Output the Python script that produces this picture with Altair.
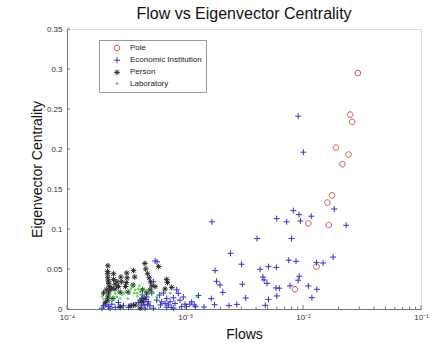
import altair as alt
import pandas as pd

# ---- data ----
pole_x = [0.0292, 0.0251, 0.0261, 0.0190, 0.0243, 0.0216, 0.0176, 0.0161, 0.0111, 0.0165, 0.0130, 0.00855]
pole_y = [0.295, 0.243, 0.234, 0.2017, 0.193, 0.181, 0.142, 0.133, 0.107, 0.105, 0.053, 0.0246]

econ_x = [0.0091, 0.01007, 0.00169, 0.0184, 0.00828, 0.00925, 0.01175, 0.00598, 0.00727, 0.0095,
          0.0232, 0.00408, 0.0080, 0.00243, 0.0180, 0.00757, 0.00873, 0.0148, 0.0130, 0.00301,
          0.00180, 0.00433, 0.0051, 0.00595, 0.00457, 0.0093, 0.00185, 0.00468, 0.00496, 0.00306,
          0.00198, 0.0091, 0.0111, 0.00776, 0.0059, 0.0063, 0.0131, 0.00209, 0.0013, 0.00167,
          0.00327, 0.0051, 0.0060, 0.0119, 0.00178, 0.00236, 0.00275, 0.00479, 0.00145, 0.00123,
          0.0011,
          1.98e-4, 2.11e-4, 2.18e-4, 2.25e-4, 2.40e-4, 2.56e-4, 2.73e-4, 3.01e-4, 3.32e-4, 3.66e-4,
          4.03e-4, 4.30e-4, 4.45e-4, 4.50e-4, 4.59e-4, 4.74e-4, 4.90e-4, 5.06e-4, 5.23e-4, 5.58e-4,
          5.80e-4, 5.40e-4, 5.76e-4, 6.07e-4, 6.35e-4, 6.56e-4, 6.78e-4, 7.00e-4, 7.23e-4, 7.47e-4,
          7.72e-4, 7.97e-4, 8.23e-4, 8.78e-4, 9.07e-4, 9.37e-4, 9.68e-4, 1.00e-3, 1.03e-3, 1.14e-3,
          1.20e-3, 8.50e-4, 4.17e-4, 4.30e-4, 4.67e-4, 4.82e-4, 4.37e-4, 2.04e-4, 2.32e-4, 2.82e-4,
          3.54e-4, 6.20e-4, 7.00e-4, 5.40e-4, 8.00e-4]
econ_y = [0.241, 0.196, 0.109, 0.125, 0.123, 0.118, 0.116, 0.113, 0.109, 0.110,
          0.1046, 0.088, 0.088, 0.0696, 0.065, 0.061, 0.0596, 0.0575, 0.058, 0.056,
          0.048, 0.0496, 0.053, 0.052, 0.040, 0.041, 0.0346, 0.0363, 0.032, 0.031,
          0.030, 0.036, 0.0288, 0.029, 0.0263, 0.026, 0.0246, 0.0208, 0.017, 0.013,
          0.0138, 0.012, 0.0163, 0.0142, 0.0054, 0.0042, 0.0058, 0.0046, 0.0025, 0.0029,
          0.006,
          0.001, 0.005, 0.009, 0.003, 0.006, 0.002, 0.008, 0.004, 0.002, 0.005,
          0.008, 0.013, 0.009, 0.005, 0.001, 0.015, 0.009, 0.004, 0.020, 0.060,
          0.059, 0.034, 0.011, 0.0175, 0.009, 0.020, 0.007, 0.013, 0.005, 0.009,
          0.002, 0.014, 0.007, 0.0196, 0.011, 0.003, 0.015, 0.006, 0.003, 0.009,
          0.005, 0.024, 0.011, 0.005, 0.012, 0.006, 0.0175, 0.004, 0.001, 0.002,
          0.004, 0.005, 0.002, 0.001, 0.001]

person_x = [2.22e-4, 2.21e-4, 2.21e-4, 2.22e-4, 2.24e-4, 2.26e-4, 2.28e-4, 2.32e-4, 2.25e-4, 2.22e-4,
            2.21e-4, 2.48e-4, 2.48e-4, 2.56e-4, 2.55e-4, 2.73e-4, 2.86e-4, 2.89e-4, 2.82e-4, 3.21e-4,
            3.23e-4, 3.18e-4, 3.13e-4, 3.30e-4, 3.66e-4, 3.75e-4, 3.63e-4, 3.43e-4, 4.57e-4, 4.65e-4,
            4.82e-4, 4.98e-4, 5.10e-4, 5.23e-4, 4.74e-4, 4.50e-4, 5.98e-4, 7.00e-4, 7.10e-4, 6.78e-4,
            7.72e-4, 5.58e-4, 2.04e-4, 2.11e-4, 3.78e-4, 4.17e-4, 2.82e-4, 2.15e-4, 2.40e-4, 2.65e-4,
            2.45e-4, 4.37e-4, 5.06e-4, 4.30e-4]
person_y = [0.054, 0.047, 0.044, 0.039, 0.035, 0.032, 0.028, 0.024, 0.020, 0.015,
            0.011, 0.044, 0.037, 0.031, 0.025, 0.028, 0.040, 0.034, 0.021, 0.045,
            0.039, 0.033, 0.028, 0.021, 0.048, 0.040, 0.030, 0.004, 0.057, 0.050,
            0.044, 0.039, 0.034, 0.029, 0.020, 0.013, 0.053, 0.037, 0.033, 0.025,
            0.027, 0.028, 0.020, 0.008, 0.005, 0.001, 0.003, 0.024, 0.026, 0.034,
            0.013, 0.024, 0.024, 0.009]

lab_x = [1.98e-4, 2.04e-4, 2.32e-4, 2.56e-4, 2.65e-4, 2.92e-4, 3.11e-4, 3.38e-4, 3.54e-4, 3.66e-4,
         3.78e-4, 3.91e-4, 4.03e-4, 4.17e-4, 4.30e-4, 4.45e-4, 4.98e-4, 5.40e-4, 5.76e-4, 6.20e-4,
         7.47e-4, 1.26e-3, 2.25e-4, 2.45e-4, 3.27e-4, 2.82e-4, 3.47e-4, 3.72e-4, 3.95e-4, 4.10e-4,
         4.74e-4, 3.01e-4, 2.73e-4, 2.48e-4]
lab_y = [0.016, 0.013, 0.0175, 0.0196, 0.015, 0.018, 0.0217, 0.020, 0.028, 0.031,
         0.024, 0.0196, 0.025, 0.0217, 0.018, 0.024, 0.019, 0.021, 0.015, 0.019,
         0.0196, 0.015, 0.009, 0.011, 0.013, 0.013, 0.025, 0.020, 0.016, 0.029,
         0.023, 0.0196, 0.0217, 0.015]

categories = ["Pole", "Economic Institution", "Person", "Laboratory"]
colors = ["#d05050", "#3434c8", "#2a2a2a", "#22cc22"]
# marker outlines drawn in a unit square (-1..1), all at one symbol size
shapes = ["M-0.8,0A0.8,0.8,0,1,0,0.8,0A0.8,0.8,0,1,0,-0.8,0Z",
          "M-0.85,0L0.85,0M0,-0.85L0,0.85",
          "M-0.8,0L0.8,0M0,-0.8L0,0.8M-0.57,-0.57L0.57,0.57M-0.57,0.57L0.57,-0.57",
          "M-0.25,0A0.25,0.25,0,1,0,0.25,0A0.25,0.25,0,1,0,-0.25,0Z"]
SYM = 49

y_ticks = [0, 0.05, 0.1, 0.15, 0.2, 0.25, 0.3, 0.35]
x_major = [1e-4, 1e-3, 1e-2, 1e-1]
x_minor = [m * d for d in [1e-4, 1e-3, 1e-2] for m in range(2, 10)]

rows = []
for name, xs, ys in [("Pole", pole_x, pole_y), ("Economic Institution", econ_x, econ_y),
                     ("Person", person_x, person_y), ("Laboratory", lab_x, lab_y)]:
    for a, b in zip(xs, ys):
        rows.append({"Flows": a, "EC": b, "type": name})
df = pd.DataFrame(rows)

W, H = 354, 280
xscale = alt.Scale(type="log", domain=[1e-4, 1e-1], nice=False)
yscale = alt.Scale(domain=[0, 0.35], nice=False, zero=False)

label_expr = ("datum.value < 0.0002 ? '10⁻⁴' : datum.value < 0.002 ? '10⁻³' : "
              "datum.value < 0.02 ? '10⁻²' : '10⁻¹'")

x_axis = alt.Axis(values=x_major, labelExpr=label_expr, ticks=False, tickSize=0,
                  grid=False, labelFontSize=8, labelColor="#333", labelPadding=4,
                  labelFont="Liberation Sans", domainColor="#777",
                  labelOverlap=False,
                  title="Flows", titleFont="Liberation Sans", titleFontSize=14,
                  titleFontWeight="normal", titleColor="#111", titleY=29,
                  titleBaseline="alphabetic", labelFlush=False)
y_axis = alt.Axis(values=y_ticks, format="~g", ticks=False, tickSize=0, grid=False,
                  labelFontSize=8, labelColor="#333", labelPadding=5,
                  labelFont="Liberation Sans", domainColor="#777",
                  labelOverlap=False, labelFlush=False,
                  title="Eigenvector Centrality", titleFont="Liberation Sans",
                  titleFontSize=14, titleFontWeight="normal", titleColor="#111",
                  titleX=-23, titleY=140, titleAngle=-90, titleAlign="center",
                  titleBaseline="bottom")

legend = alt.Legend(title=None, orient="none", legendX=32, legendY=11,
                    strokeColor="#999", fillColor="white", padding=4,
                    labelFont="Liberation Sans", labelFontSize=8,
                    labelColor="#222", rowPadding=2.2, symbolSize=SYM,
                    labelExpr="datum.label + '\u00a0\u00a0'",
                    symbolOffset=10, labelOffset=9, symbolStrokeWidth=1)

points = alt.Chart(df).mark_point(filled=False, strokeWidth=1, opacity=1, size=SYM).encode(
    x=alt.X("Flows:Q", scale=xscale, axis=x_axis),
    y=alt.Y("EC:Q", scale=yscale, axis=y_axis),
    color=alt.Color("type:N", scale=alt.Scale(domain=categories, range=colors), legend=legend),
    shape=alt.Shape("type:N", scale=alt.Scale(domain=categories, range=shapes), legend=legend),
)

ytick_df = pd.DataFrame({"EC": y_ticks})
ytick = alt.Chart(ytick_df).mark_rule(color="#777", strokeWidth=1).encode(
    y=alt.Y("EC:Q", scale=yscale, axis=y_axis), x=alt.value(0), x2=alt.value(3))

xmaj_df = pd.DataFrame({"Flows": x_major})
xmaj = alt.Chart(xmaj_df).mark_rule(color="#777", strokeWidth=1).encode(
    x=alt.X("Flows:Q", scale=xscale, axis=x_axis), y=alt.value(H), y2=alt.value(H - 4))

xmin_df = pd.DataFrame({"Flows": x_minor})
xmin = alt.Chart(xmin_df).mark_rule(color="#777", strokeWidth=1).encode(
    x=alt.X("Flows:Q", scale=xscale, axis=x_axis), y=alt.value(H), y2=alt.value(H - 2.5))

chart = alt.layer(points, ytick, xmaj, xmin).properties(
    width=W, height=H,
    title=alt.TitleParams("Flow vs Eigenvector Centrality", font="Liberation Sans",
                          fontSize=16, fontWeight="normal", color="#111",
                          offset=7, baseline="alphabetic", anchor="middle", dy=17),
    padding={"left": 67, "top": 29, "right": 23, "bottom": 35},
    autosize=alt.AutoSizeParams(type="none"),
).configure_view(stroke=None).configure(background="white")

chart.save("out.html", embed_options={"renderer": "svg", "actions": False})
